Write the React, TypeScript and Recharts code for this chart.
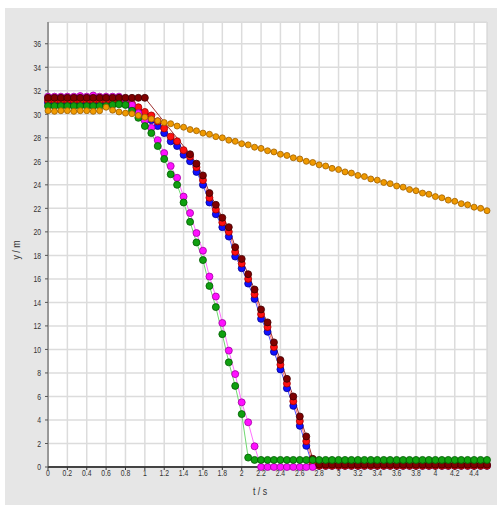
import React from 'react';
import { LineChart, Line, XAxis, YAxis, CartesianGrid } from 'recharts';

const times = [0,0.067,0.133,0.2,0.267,0.333,0.4,0.467,0.533,0.6,0.667,0.733,0.8,0.867,0.933,1,1.067,1.133,1.2,1.267,1.333,1.4,1.467,1.533,1.6,1.667,1.733,1.8,1.867,1.933,2,2.067,2.133,2.2,2.267,2.333,2.4,2.467,2.533,2.6,2.667,2.733,2.8,2.867,2.933,3,3.067,3.133,3.2,3.267,3.333,3.4,3.467,3.533,3.6,3.667,3.733,3.8,3.867,3.933,4,4.067,4.133,4.2,4.267,4.333,4.4,4.467,4.533];

const orangeY = [30.3,30.25,30.3,30.3,30.25,30.3,30.3,30.25,30.3,
  30.6,30.35,30.2,30.1,30.05,29.9,29.75,29.6,29.45,29.3,
  29.2,29.0,28.9,28.7,28.6,28.4,28.3,28.1,28.0,27.8,
  27.7,27.5,27.4,27.2,27.1,26.9,26.8,26.6,26.5,26.3,
  26.2,26.0,25.9,25.7,25.6,25.4,25.3,25.1,25.0,24.8,
  24.7,24.5,24.4,24.2,24.1,23.9,23.8,23.6,23.5,23.3,
  23.2,23.0,22.9,22.7,22.6,22.4,22.3,22.1,22.0,21.8];

const greenY = [30.7,30.7,30.7,30.7,30.7,30.7,30.7,30.7,30.7,30.7,
  30.8,30.85,30.8,30.3,29.7,29.0,28.4,27.3,26.2,24.9,24.0,22.5,20.85,19.1,17.6,15.4,13.6,11.3,8.9,6.9,4.5,
  0.8,
  0.6,0.6,0.6,0.6,0.6,0.6,0.6,0.6,0.6,0.6,0.6,0.6,0.6,0.6,0.6,0.6,0.6,0.6,0.6,0.6,0.6,0.6,0.6,0.6,0.6,0.6,0.6,0.6,0.6,0.6,0.6,0.6,0.6,0.6,0.6,0.6,0.6];

const magentaY = [31.5,31.5,31.5,31.5,31.5,31.55,31.5,31.6,31.5,31.5,31.5,31.5,
  31.3,30.8,30.1,29.45,28.85,27.8,26.7,25.6,24.6,23.0,21.6,19.9,18.4,16.2,14.5,12.25,9.9,7.9,5.5,3.8,1.76,
  0,0,0,0,0,0,0,0,0,
  null,null,null,null,null,null,null,null,null,null,null,null,null,null,null,null,null,null,null,null,null,null,null,null,null,null,null];

const redY = [31.2,31.2,31.2,31.2,31.2,31.2,31.2,31.2,31.2,31.2,31.2,31.2,31.2,
  30.9,30.6,30.2,29.9,29.4,28.8,28.1,27.7,26.95,26.4,25.5,24.4,22.9,21.9,20.8,20.0,18.3,17.3,16.0,14.7,13.0,11.9,10.2,8.7,7.1,5.6,3.9,2.2,0.3,
  0.1,0.1,0.1,0.1,0.1,0.1,0.1,0.1,0.1,0.1,0.1,0.1,0.1,0.1,0.1,0.1,0.1,0.1,0.1,0.1,0.1,0.1,0.1,0.1,0.1,0.1,0.1];

const blueY = [31.0,31.0,31.0,31.0,31.0,31.0,31.0,31.0,31.0,31.0,31.0,31.0,31.0,
  30.6,30.25,29.85,29.5,29.0,28.4,27.7,27.3,26.55,26.0,25.1,24.0,22.5,21.5,20.4,19.6,17.9,16.9,15.6,14.3,12.6,11.5,9.8,8.3,6.7,5.2,3.5,1.8,0.1,
  0.1,0.1,0.1,0.1,0.1,0.1,0.1,0.1,0.1,0.1,0.1,0.1,0.1,0.1,0.1,0.1,0.1,0.1,0.1,0.1,0.1,0.1,0.1,0.1,0.1,0.1,0.1];

const maroonY = [31.4,31.4,31.4,31.4,31.4,31.4,31.4,31.4,31.4,31.4,31.4,31.4,31.4,31.4,31.4,31.4,
  null,null,null,null,null,null,
  26.6,25.8,24.8,23.3,22.3,21.2,20.4,18.7,17.7,16.4,15.1,13.4,12.3,10.6,9.1,7.5,6.0,4.3,2.6,0.7,
  0.2,0.2,0.2,0.2,0.2,0.2,0.2,0.2,0.2,0.2,0.2,0.2,0.2,0.2,0.2,0.2,0.2,0.2,0.2,0.2,0.2,0.2,0.2,0.2,0.2,0.2,0.2];

const xTicks = [0,0.2,0.4,0.6,0.8,1,1.2,1.4,1.6,1.8,2,2.2,2.4,2.6,2.8,3,3.2,3.4,3.6,3.8,4,4.2,4.4];
const yTicks = [0,2,4,6,8,10,12,14,16,18,20,22,24,26,28,30,32,34,36];

const data = times.map((t, i) => ({
  t,
  orange: orangeY[i],
  green: greenY[i],
  magenta: magentaY[i],
  red: redY[i],
  blue: blueY[i],
  maroon: maroonY[i],
}));

const FONT = "'Liberation Sans', Arial, sans-serif";

const XTick = (props: any) => {
  const { x, y, payload } = props;
  return (
    <text transform={`translate(${x},${y + 5}) scale(0.72,1)`} textAnchor="middle" fontSize={9.5} fill="#333" fontFamily={FONT}>
      {String(payload.value)}
    </text>
  );
};

const YTick = (props: any) => {
  const { x, y, payload } = props;
  return (
    <text transform={`translate(${x},${y + 3.3}) scale(0.72,1)`} textAnchor="end" fontSize={9.5} fill="#333" fontFamily={FONT}>
      {String(payload.value)}
    </text>
  );
};

const series = [
  { key: 'blue', fill: '#1010ff', stroke: '#000090', line: '#5050ff', r: 3.5 },
  { key: 'red', fill: '#ff1010', stroke: '#a00000', line: '#ff7070', r: 3.5 },
  { key: 'magenta', fill: '#ff10ff', stroke: '#a000a0', line: '#ff70ff', r: 3.5 },
  { key: 'maroon', fill: '#800000', stroke: '#400000', line: '#a03030', r: 3.5 },
  { key: 'green', fill: '#10a010', stroke: '#005a00', line: '#70d870', r: 3.5 },
  { key: 'orange', fill: '#f09a00', stroke: '#a06000', line: '#e09000', r: 3 },
];

export default function App() {
  return (
    <div style={{ position: 'absolute', left: 0, top: 0, width: 497, height: 505, background: '#ffffff', overflow: 'hidden' }}>
      <div style={{ position: 'absolute', left: 5, top: 8, width: 492, height: 497, background: '#e6e6e6' }} />
      <div style={{ position: 'absolute', left: 48, top: 22, width: 440, height: 445, background: '#ffffff', border: '1px solid #d6d6d6', boxSizing: 'border-box' }} />
      <div style={{ position: 'absolute', left: 0, top: 0 }}>
        <LineChart width={497} height={505} data={data} margin={{ top: 22, right: 10, bottom: 10, left: 0 }}>
          <CartesianGrid stroke="#dcdcdc" strokeWidth={1.5} />
          <XAxis
            type="number"
            dataKey="t"
            domain={[0, 4.533]}
            ticks={xTicks}
            interval={0}
            height={28}
            tick={<XTick />}
            tickSize={3}
            tickMargin={1}
            axisLine={{ stroke: '#111', strokeWidth: 1.5 }}
            tickLine={{ stroke: '#333' }}
          />
          <YAxis
            type="number"
            domain={[0, 37.85]}
            ticks={yTicks}
            interval={0}
            width={48}
            tick={<YTick />}
            tickSize={3}
            tickMargin={4}
            axisLine={{ stroke: '#555', strokeWidth: 1 }}
            tickLine={{ stroke: '#555' }}
          />
          {series.map((s) => (
            <Line
              key={s.key}
              type="linear"
              dataKey={s.key}
              stroke={s.line}
              strokeWidth={1}
              connectNulls
              isAnimationActive={false}
              dot={{ r: s.r, fill: s.fill, stroke: s.stroke, strokeWidth: 0.8 }}
              activeDot={false}
            />
          ))}
        </LineChart>
      </div>
      <svg width={497} height={505} style={{ position: 'absolute', left: 0, top: 0, pointerEvents: 'none' }}>
        <text transform="translate(260,495) scale(0.8,1)" textAnchor="middle" fontSize={11} fill="#333" fontFamily={FONT}>t / s</text>
        <text transform="translate(20,250) rotate(-90) scale(0.8,1)" textAnchor="middle" fontSize={11} fill="#333" fontFamily={FONT}>y / m</text>
      </svg>
    </div>
  );
}
